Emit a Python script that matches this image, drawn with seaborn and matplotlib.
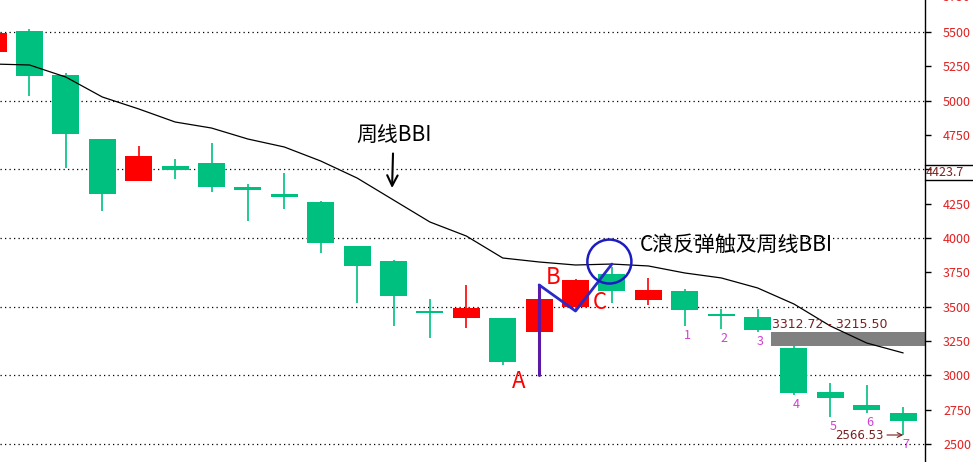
import numpy as np
import pandas as pd
import matplotlib
matplotlib.use("Agg")
import matplotlib.pyplot as plt
import matplotlib.transforms as mtransforms
from matplotlib.patches import Ellipse
import seaborn as sns

# 周K线数据
opens = [5354, 5507, 5187, 4721, 4416, 4525, 4547, 4372, 4321, 4263, 3943, 3833, 3469,
         3418, 3418, 3317, 3498, 3739, 3549, 3615, 3448, 3426, 3200, 2880, 2785, 2727]
closes = [5493, 5180, 4758, 4321, 4598, 4496, 4372, 4350, 4299, 3964, 3797, 3579, 3455,
          3491, 3098, 3557, 3695, 3615, 3622, 3477, 3433, 3331, 2873, 2836, 2749, 2669]
highs = [5500, 5522, 5202, 4721, 4670, 4576, 4692, 4394, 4474, 4270, 3943, 3841, 3557,
         3659, 3418, 3659, 3702, 3790, 3710, 3630, 3484, 3484, 3215, 2945, 2931, 2771]
lows = [5340, 5034, 4510, 4197, 4416, 4430, 4336, 4124, 4212, 3892, 3528, 3360, 3273,
        3346, 3076, 3004, 3469, 3528, 3513, 3360, 3338, 3317, 2858, 2698, 2727, 2566.53]
# 周线BBI
bbi = [5267, 5260, 5172, 5027, 4940, 4845, 4801, 4721, 4663, 4561, 4437, 4277, 4117,
       4015, 3855, 3826, 3804, 3811, 3797, 3746, 3710, 3637, 3520, 3360, 3236, 3164]

wave_labels = ["1", "2", "3", "4", "5", "6", "7"]
wave_start = 19
zone_high = 3312.72
zone_low = 3215.50
last_price = 4423.7
y_ticks = list(range(2500, 5751, 250))
grid_levels = list(range(2500, 5501, 500))

df = pd.DataFrame({"open": opens, "close": closes, "high": highs, "low": lows, "bbi": bbi})
df["idx"] = np.arange(len(df))

sns.set_style("white")
plt.rcParams["font.family"] = ["Noto Sans CJK SC", "DejaVu Sans"]

RED = "#ff0000"
GREEN = "#00c07f"
MAROON = "#7a1f1f"

fig = plt.figure(figsize=(9.73, 4.62), dpi=100)
ax = fig.add_axes([0, 0, 925 / 973, 1])

xlo, xhi = 0.19, 25.6
ylo, yhi = 2370, 5733
w = 0.74

for lv in grid_levels:
    ax.axhline(lv, color="black", lw=0.9, ls=(0, (1, 2.6)), zorder=0)

# 缺口区域
x0 = wave_start + 2 + w / 2
ax.axhspan(zone_low, zone_high, xmin=(x0 - xlo) / (xhi - xlo), xmax=1,
           color="#808080", lw=0, zorder=1)
ax.annotate(f"{zone_high:.2f} - {zone_low:.2f}", xy=(x0, zone_high), xytext=(1, 1),
            textcoords="offset points", ha="left", va="bottom", fontsize=9,
            color=MAROON, family="DejaVu Sans", zorder=5)

# K线
up = df["close"] > df["open"]
colors = np.where(up, RED, GREEN)
ax.vlines(df["idx"], df["low"], df["high"], colors=colors, lw=1.2, zorder=2)
ax.bar(df["idx"], df["close"] - df["open"], bottom=df["open"], width=w,
       color=colors, lw=0, zorder=3)

sns.lineplot(data=df, x="idx", y="bbi", color="black", lw=0.9, ax=ax, zorder=4)

# 浪序号
for k, lab in enumerate(wave_labels):
    i = wave_start + k
    ax.annotate(lab, xy=(i, lows[i]), xytext=(2, -2), textcoords="offset points",
                ha="center", va="top", fontsize=9, color="#d040d0")

ax.annotate(f"{lows[-1]:.2f}", xy=(len(df) - 1, lows[-1]), xytext=(-14, 0),
            textcoords="offset points", ha="right", va="center", fontsize=8.5,
            color=MAROON, family="DejaVu Sans",
            arrowprops=dict(arrowstyle="->", color=MAROON, lw=0.8, shrinkA=0, shrinkB=0))

# ABC 结构
a_i = 15
ax.plot([a_i, a_i], [lows[a_i], highs[a_i]], color="#5b19a8", lw=2.2, zorder=6)
ax.plot([a_i, a_i + 1, a_i + 2], [highs[a_i], lows[a_i + 1], bbi[a_i + 2]],
        color="#2a2ac8", lw=2.0, zorder=6)
ax.add_patch(Ellipse((a_i + 1.93, bbi[a_i + 2] + 18), width=1.21, height=320,
                     fill=False, ec="#1c1cc0", lw=1.8, zorder=7))

ax.text(14.45, 2958, "A", color=RED, fontsize=16, ha="center", va="center")
ax.text(15.38, 3716, "B", color=RED, fontsize=16, ha="center", va="center")
ax.text(16.67, 3534, "C", color=RED, fontsize=16, ha="center", va="center")

ax.annotate("周线BBI", xy=(10.96, 4364), xytext=(11.0, 4750), fontsize=15,
            ha="center", va="center", color="black",
            arrowprops=dict(arrowstyle="->,head_length=0.5,head_width=0.25",
                            color="black", lw=1.5, shrinkA=3, shrinkB=0))
ax.text(17.77, 3949, "C浪反弹触及周线BBI", fontsize=15, ha="left", va="center", color="black")

# 右侧价格轴
ax.set_xlim(xlo, xhi)
ax.set_ylim(ylo, yhi)
ax.set_xticks([])
ax.yaxis.tick_right()
shown = [t for t in y_ticks if t <= yhi]
ax.set_yticks(shown)
# 4500 处被最新价标签替代
ax.set_yticklabels(["" if t == 4500 else str(t) for t in shown])
ax.tick_params(axis="y", direction="out", length=4, width=1, color="black",
               pad=9, labelsize=9, labelcolor="#e02020")
trans = mtransforms.blended_transform_factory(ax.transAxes, ax.transData)
ax.text(1 + 18 / 925, 5750, "5750", transform=trans,
        ha="left", va="center", fontsize=9, color="#e02020", clip_on=False)
for s in ["top", "left", "bottom"]:
    ax.spines[s].set_visible(False)
ax.spines["right"].set_color("black")
ax.spines["right"].set_linewidth(1)
ax.set_xlabel("")
ax.set_ylabel("")

# 最新价标签
box_top = last_price + 108
ax.plot([1, 973 / 925], [last_price, last_price], color="black", lw=1, transform=trans, clip_on=False)
ax.plot([1, 973 / 925], [box_top, box_top], color="black", lw=1, transform=trans, clip_on=False)
ax.text(1 + 1 / 925, (last_price + box_top) / 2, f"{last_price}", transform=trans,
        ha="left", va="center", fontsize=9, color=MAROON, clip_on=False)

fig.savefig("out.png", dpi=100)
